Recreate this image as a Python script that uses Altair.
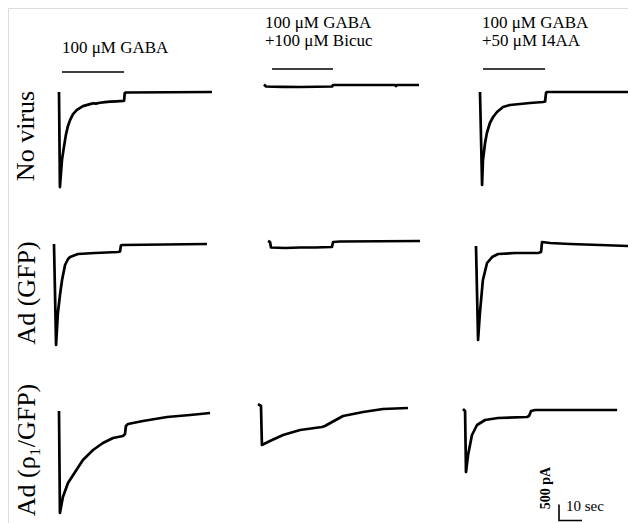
import altair as alt
import pandas as pd

# ---------------- data (time in s, current in pA relative to holding) ----------------
# Row 1: No virus
r1c1_t = [0, 0.4, 0.9, 1.3, 2.2, 3.0, 3.9, 4.8, 6.1, 7.8, 10.4, 13.5, 15.0, 16.0, 17.8, 20.0, 22.2, 25.0, 27.8, 28.3, 28.6, 29.1, 66.5]
r1c1_i = [0, -2970, -2500, -2120, -1690, -1340, -1060, -880, -690, -560, -440, -380, -350, -365, -335, -315, -300, -290, -280, -270, -30, -15, 0]
r1c2_t = [0, 0.9, 8.0, 15.7, 23.0, 29.6, 30.0, 45.0, 57.0, 57.4, 57.8, 67.4]
r1c2_i = [16, -47, -60, -63, -55, -47, 0, 0, 0, -30, 0, 0]
r1c3_t = [0, 0.9, 1.3, 2.2, 3.0, 4.3, 5.7, 7.4, 10.0, 13.0, 17.4, 21.7, 27.4, 28.3, 28.7, 29.1, 66.5]
r1c3_i = [0, -2906, -2125, -1594, -1281, -969, -781, -625, -469, -406, -375, -344, -313, -297, -31, 0, 0]
# Row 2: Ad (GFP)
r2c1_t = [0, 0.9, 1.7, 2.6, 3.5, 4.8, 6.1, 7.0, 10.4, 17.8, 27.8, 28.7, 29.1, 29.6, 66.5]
r2c1_i = [0, -3156, -2156, -1594, -1125, -656, -469, -406, -313, -281, -250, -234, -47, -31, 0]
r2c2_t = [0, 0.9, 1.3, 7.4, 13.9, 20.4, 27.8, 28.3, 31.3, 66.1]
r2c2_i = [0, -31, -203, -219, -203, -203, -188, -31, -16, 0]
r2c3_t = [0, 0.9, 1.7, 3.0, 4.8, 7.0, 9.6, 17.0, 27.0, 28.3, 28.7, 32.2, 40.9, 53.9, 66.1]
r2c3_i = [31, -2906, -2063, -1031, -500, -313, -219, -188, -188, -156, 156, 125, 94, 63, 31]
# Row 3: Ad (rho1/GFP)
r3c1_t = [0, 0.4, 1.7, 3.9, 7.0, 10.4, 14.8, 19.1, 23.5, 27.8, 28.7, 29.1, 30.0, 36.5, 47.0, 57.0, 65.7]
r3c1_i = [31, -3156, -2656, -2219, -1875, -1500, -1188, -969, -813, -750, -688, -438, -375, -281, -156, -94, -31]
r3c2_t = [0, 1.3, 1.7, 5.2, 10.9, 18.3, 27.8, 29.1, 32.2, 37.0, 45.7, 54.3, 65.2]
r3c2_i = [31, -31, -1250, -1125, -938, -781, -688, -656, -531, -344, -219, -125, -94]
r3c3_t = [0, 0.9, 1.3, 2.2, 3.9, 6.1, 9.6, 15.2, 27.8, 28.7, 29.6, 31.3, 67.0]
r3c3_i = [31, -31, -1938, -1406, -781, -469, -313, -250, -219, -188, -31, 0, 0]

# drug application bars (on, off) in s, relative to trace start
gaba_on = [1.3, 3.5, 1.3]
gaba_off = [28.3, 30.0, 28.3]

row_labels = ["No virus", "Ad (GFP)", "Ad (ρ₁/GFP)"]
col_labels = [["100 μM GABA"], ["100 μM GABA", "+100 μM Bicuc"], ["100 μM GABA", "+50 μM I4AA"]]
scale_amp = 500   # pA
scale_time = 10   # s

traces = {
    (0, 0): (r1c1_t, r1c1_i), (0, 1): (r1c2_t, r1c2_i), (0, 2): (r1c3_t, r1c3_i),
    (1, 0): (r2c1_t, r2c1_i), (1, 1): (r2c2_t, r2c2_i), (1, 2): (r2c3_t, r2c3_i),
    (2, 0): (r3c1_t, r3c1_i), (2, 1): (r3c2_t, r3c2_i), (2, 2): (r3c3_t, r3c3_i),
}

# ---------------- layout ----------------
W, H = 620, 515
PX_PER_S = 2.3
PA_PER_PX = 31.25
# panel origins (pixel position of trace start on the page)
origins = {
    (0, 0): (59, 92), (0, 1): (264, 85), (0, 2): (480, 92),
    (1, 0): (54, 244), (1, 1): (268, 241), (1, 2): (476, 247),
    (2, 0): (59, 412), (2, 1): (258, 405), (2, 2): (463, 410),
}
bar_px_above = [20, 16, 23]


def T0(px):
    return (px - 8) / PX_PER_S


def Y0(py):
    return (py - 8) * PA_PER_PX


rows = []
for key, (ts, cs) in traces.items():
    ox, oy = origins[key]
    for k, (t, c) in enumerate(zip(ts, cs)):
        rows.append({"panel": f"{key[0]}-{key[1]}", "k": k, "X": T0(ox) + t, "Y": Y0(oy) - c})
df = pd.DataFrame(rows)

bars = []
for c in range(3):
    ox, oy = origins[(0, c)]
    yb = Y0(oy) - bar_px_above[c] * PA_PER_PX
    bars.append({"panel": f"b{c}", "k": 0, "X": T0(ox) + gaba_on[c], "Y": yb})
    bars.append({"panel": f"b{c}", "k": 1, "X": T0(ox) + gaba_off[c], "Y": yb})
# scale bar
sx, sy = T0(559), Y0(520.5)
bars += [
    {"panel": "sb", "k": 0, "X": sx, "Y": sy - scale_amp},
    {"panel": "sb", "k": 1, "X": sx, "Y": sy},
    {"panel": "sb", "k": 2, "X": sx + scale_time, "Y": sy},
]
dfb = pd.DataFrame(bars)

xs = alt.Scale(domain=[0, W / PX_PER_S], nice=False, zero=False)
ys = alt.Scale(domain=[0, H * PA_PER_PX], nice=False, zero=False, reverse=True)

enc = dict(
    x=alt.X("X:Q", scale=xs, axis=None),
    y=alt.Y("Y:Q", scale=ys, axis=None),
    detail="panel:N",
    order="k:Q",
)

lines = alt.Chart(df).mark_line(color="black", strokeWidth=2.7, strokeJoin="round").encode(**enc)
barl = alt.Chart(dfb).mark_line(color="black", strokeWidth=1.6).encode(**enc)

FONT = "Liberation Serif"

# text
txt = []
head_x = [62, 265, 482]
for c in range(3):
    labs = col_labels[c]
    if len(labs) == 1:
        txt.append({"s": labs[0], "x": head_x[c] - 8, "y": 53 - 8})
    else:
        txt.append({"s": labs[0], "x": head_x[c] - 8, "y": 28 - 8})
        txt.append({"s": labs[1], "x": head_x[c] - 8, "y": 46 - 8})
dft = pd.DataFrame(txt)
heads = alt.Chart(dft).mark_text(font=FONT, fontSize=17, align="left", baseline="alphabetic", color="black").encode(
    x=alt.X("x:Q", scale=None), y=alt.Y("y:Q", scale=None), text="s:N"
)

rl = pd.DataFrame({"s": row_labels, "x": [26 - 8, 27 - 8, 27 - 8], "y": [136 - 8, 293 - 8, 450 - 8]})
rowt = alt.Chart(rl).mark_text(font=FONT, fontSize=26, angle=270, align="center", baseline="middle", color="black").encode(
    x=alt.X("x:Q", scale=None), y=alt.Y("y:Q", scale=None), text="s:N"
)

amp_t = alt.Chart(pd.DataFrame({"s": [f"{scale_amp} pA"]})).mark_text(
    font=FONT, fontSize=14, fontWeight="bold", angle=270, align="center", baseline="middle", color="black"
).encode(x=alt.value(546 - 8), y=alt.value(488 - 8), text="s:N")
time_t = alt.Chart(pd.DataFrame({"s": [f"{scale_time} sec"]})).mark_text(
    font=FONT, fontSize=15, align="left", baseline="alphabetic", color="black"
).encode(x=alt.value(566 - 8), y=alt.value(511 - 8), text="s:N")

chart = alt.layer(lines, barl, heads, rowt, amp_t, time_t).properties(
    width=W, height=H, padding=0, autosize=alt.AutoSizeParams(type="none")
).configure_view(stroke=None).configure(background="white")

chart.save("out.html", embed_options={"renderer": "svg", "actions": False})
